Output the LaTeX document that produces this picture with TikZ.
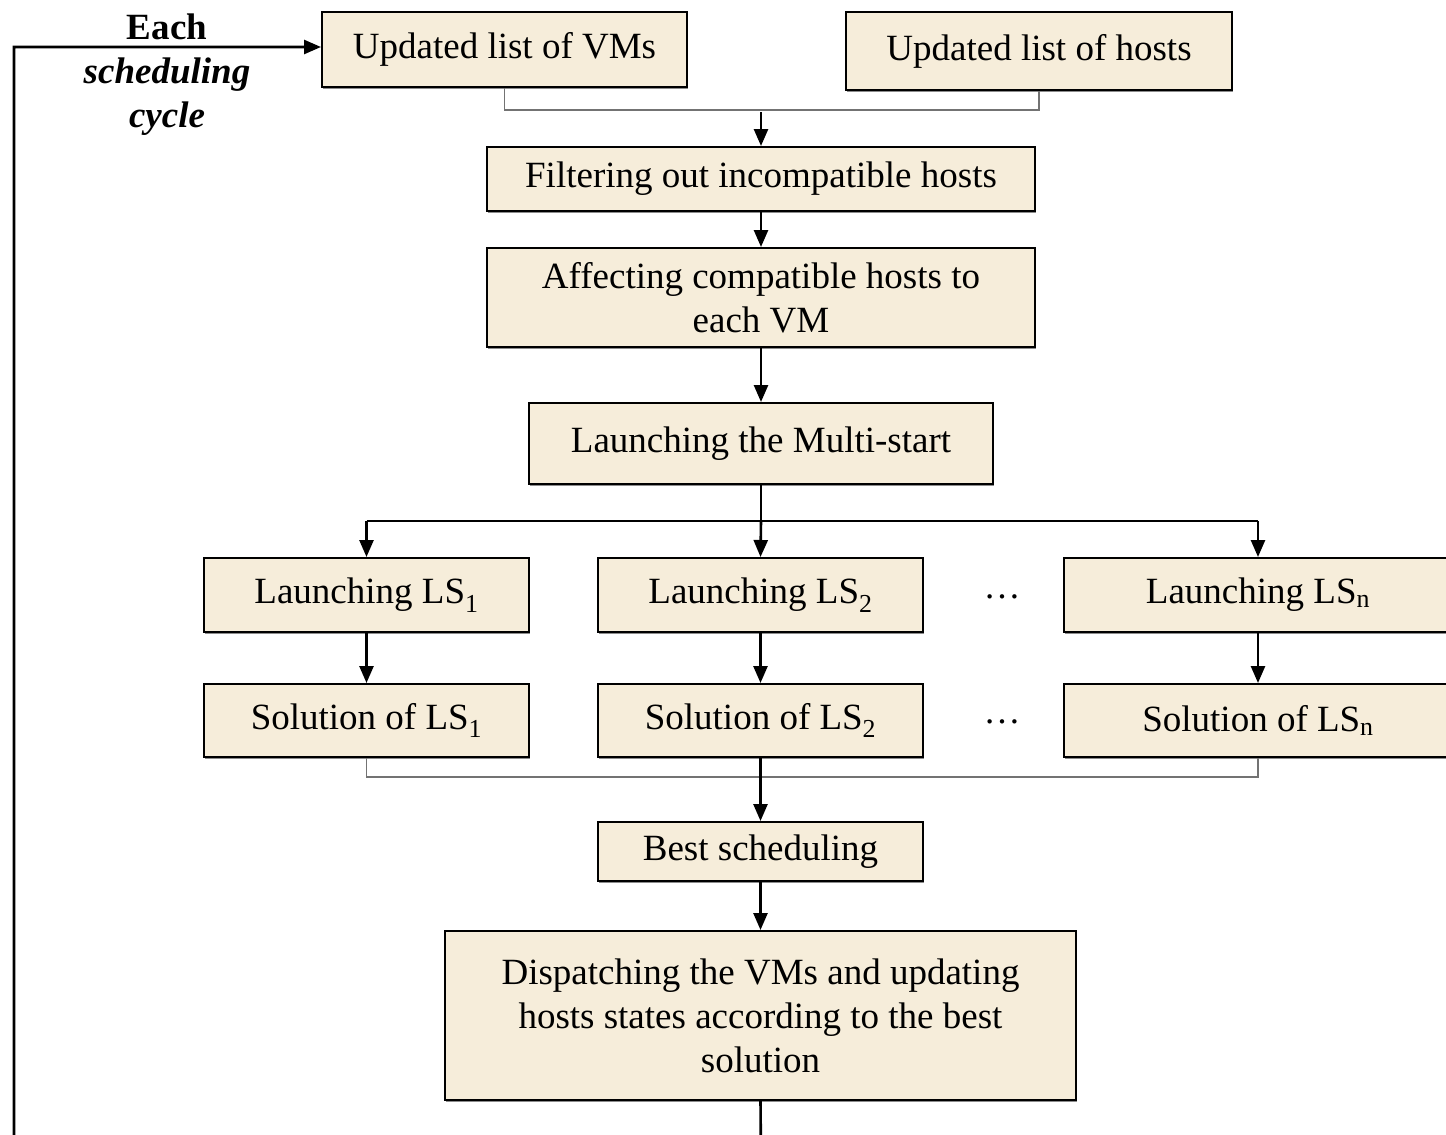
\documentclass[tikz,border=0pt]{standalone}
\usepackage{fontspec}
\setmainfont{Liberation Serif}
\usetikzlibrary{arrows.meta,shadows}
\definecolor{boxfill}{RGB}{246,237,218}
\begin{document}
\begin{tikzpicture}[x=1pt,y=-1pt,
  every node/.style={font=\fontsize{37}{44}\selectfont},
  stepbox/.style={draw=black,line width=2pt,fill=boxfill,inner sep=0pt,align=center,
    drop shadow={shadow xshift=1.2pt,shadow yshift=-1.5pt,fill=black!45,opacity=1}},
  flow/.style={line width=2.6pt,-{Triangle[length=17pt,width=14pt]}},
  thinjoin/.style={line width=1.2pt,draw=black!55}]
\useasboundingbox (0,0) rectangle (1446,1135);
\clip (0,0) rectangle (1446,1135);
% top inputs
\node[stepbox,minimum width=365pt,minimum height=75pt] (vms) at (504.5,49.5) {Updated list of VMs};
\node[stepbox,minimum width=386pt,minimum height=78pt] (hosts) at (1039,51) {Updated list of hosts};
% main chain
\node[stepbox,minimum width=548pt,minimum height=64pt] (filt) at (761,179) {Filtering out incompatible hosts};
\node[stepbox,minimum width=548pt,minimum height=99pt] (aff) at (761,297.5) {Affecting compatible hosts to\\each VM};
\node[stepbox,minimum width=464pt,minimum height=81pt] (multi) at (761,443.5) {Launching the Multi-start};
% local searches
\node[stepbox,minimum width=325pt,minimum height=74pt] (ls1) at (366.5,595) {Launching LS\textsubscript{1}};
\node[stepbox,minimum width=325pt,minimum height=74pt] (ls2) at (760.5,595) {Launching LS\textsubscript{2}};
\node[stepbox,minimum width=388pt,minimum height=74pt] (lsn) at (1258,595) {Launching LS\textsubscript{n}};
\node (dots1) at (1002,597) {\dots};
\node[stepbox,minimum width=325pt,minimum height=73pt] (sol1) at (366.5,720.5) {Solution of LS\textsubscript{1}};
\node[stepbox,minimum width=325pt,minimum height=73pt] (sol2) at (760.5,720.5) {Solution of LS\textsubscript{2}};
\node[stepbox,minimum width=388pt,minimum height=73pt] (soln) at (1258,720.5) {Solution of LS\textsubscript{n}};
\node (dots2) at (1002,722) {\dots};
% result
\node[stepbox,minimum width=325pt,minimum height=59pt] (best) at (760.5,851.5) {Best scheduling};
\node[stepbox,minimum width=631pt,minimum height=169pt] (disp) at (760.5,1015.5) {Dispatching the VMs and updating\\hosts states according to the best\\solution};
% loop label
\node[align=center] (cyc) at (167,75) {\textbf{Each}\\\textbf{\textit{scheduling}}\\\textbf{\textit{cycle}}};
% joins of the inputs
\coordinate (jtop) at (761,110);
\draw[thinjoin] (vms.south) |- (jtop) -| (hosts.south);
\draw[flow] (761,112) -- (filt.north);
\draw[flow] (filt) -- (aff);
\draw[flow] (aff) -- (multi);
% fan-out to the local searches
\coordinate (fan) at (761,521);
\draw[line width=2.6pt] (multi.south) -- (fan);
\draw[line width=2.6pt] (ls1.north |- fan) -- (lsn.north |- fan);
\draw[flow] (ls1.north |- fan) -- (ls1.north);
\draw[flow] (fan) -- (ls2.north);
\draw[flow] (lsn.north |- fan) -- (lsn.north);
\draw[flow] (ls1) -- (sol1);
\draw[flow] (ls2) -- (sol2);
\draw[flow] (lsn) -- (soln);
% fan-in of the solutions
\coordinate (jbot) at (761,777);
\draw[thinjoin] (sol1.south) |- (jbot) -| (soln.south);
\draw[flow] (sol2) -- (best);
\draw[flow] (best) -- (disp);
% feedback to the next cycle
\coordinate (loop) at (761,1160);
\coordinate (back) at (14,47);
\coordinate (entry) at (vms.west |- back);
\draw[flow] (disp.south) -- (loop) -| (back) -- (entry);
\end{tikzpicture}
\end{document}
